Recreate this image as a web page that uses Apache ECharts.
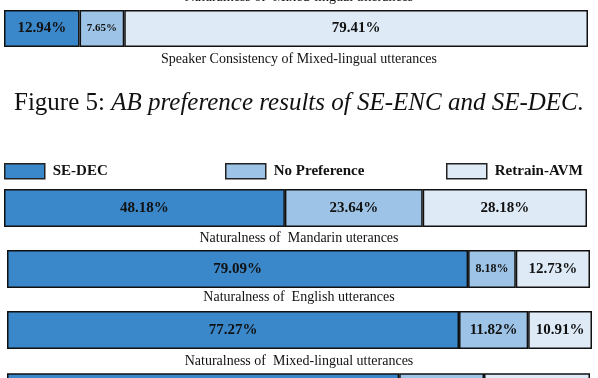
<!DOCTYPE html>
<html><head><meta charset="utf-8">
<script src="https://cdn.jsdelivr.net/npm/echarts@6/dist/echarts.min.js"></script>
<style>html,body{margin:0;padding:0;background:#fff}#c{width:598px;height:378px}</style>
</head><body><div id="c"></div>
<script>
const seriesNames = ['SE-DEC', 'No Preference', 'Retrain-AVM'];
const rowLabels = ['Speaker Consistency of Mixed-lingual utterances', 'Naturalness of  Mandarin uterances', 'Naturalness of  English utterances', 'Naturalness of  Mixed-lingual utterances'];
const topCutLabel = 'Naturalness of  Mixed-lingual utterances';
const seDec = [12.94, 48.18, 79.09, 77.27, 67.27];
const noPref = [7.65, 23.64, 8.18, 11.82, 14.55];
const retrain = [79.41, 28.18, 12.73, 10.91, 18.18];
const captionPrefix = 'Figure 5: ';
const captionText = 'AB preference results of SE-ENC and SE-DEC.';

const colors = ['#3a87c9', '#9dc3e6', '#deebf7'];
const SERIF = '"Liberation Serif", "Times New Roman", serif';
const grids = [
  {left: 4, width: 584, top: 10, height: 37},
  {left: 4, width: 583, top: 189, height: 38},
  {left: 7, width: 583, top: 250, height: 38},
  {left: 7, width: 585, top: 311, height: 38},
  {left: 7, width: 583, top: 374, height: 38}
];
const smallLabel = {'0-1': 11, '2-1': 12};
const vals = [seDec, noPref, retrain];

const series = [];
grids.forEach((g, gi) => {
  vals.forEach((arr, si) => {
    const fs = smallLabel[gi + '-' + si] || 15;
    series.push({
      name: seriesNames[si], type: 'bar', stack: 's' + gi,
      xAxisIndex: gi, yAxisIndex: gi,
      barWidth: g.height,
      itemStyle: {color: colors[si], borderColor: '#111', borderWidth: 1.5},
      label: {show: gi < 4, position: 'inside', formatter: p => p.value.toFixed(2) + '%',
        fontFamily: SERIF, fontWeight: 'bold', fontSize: fs, color: '#111'},
      emphasis: {disabled: true},
      data: [arr[gi]]
    });
  });
});

const labelYs = [59, 238.5, 297.5, 361];
const graphic = [
  {type: 'text', x: 299, y: -3, style: {text: topCutLabel, textAlign: 'center', textVerticalAlign: 'middle', font: '14px ' + SERIF, fill: '#111'}},
  ...rowLabels.map((t, i) => ({type: 'text', x: 299, y: labelYs[i], style: {text: t, textAlign: 'center', textVerticalAlign: 'middle', font: '14px ' + SERIF, fill: '#111'}}))
];

const legendPos = [4, 225, 446];
const option = {
  animation: false,
  grid: grids.map(g => ({left: g.left, width: g.width, top: g.top, height: g.height, containLabel: false})),
  xAxis: grids.map((g, i) => ({type: 'value', gridIndex: i, min: 0, max: 100, show: false})),
  yAxis: grids.map((g, i) => ({type: 'category', gridIndex: i, data: [''], show: false})),
  legend: seriesNames.map((n, i) => ({
    data: [n], left: legendPos[i], top: 163, padding: 0, itemWidth: 40, itemHeight: 15,
    icon: 'rect', selectedMode: false,
    itemStyle: {borderColor: '#222', borderWidth: 1.5},
    textStyle: {fontFamily: SERIF, fontWeight: 'bold', fontSize: 15, color: '#111', padding: [0, 0, 0, 3]}
  })),
  title: {
    text: '{a|' + captionPrefix + '}{b|' + captionText + '}',
    left: 'center', top: 91, padding: 0,
    textStyle: {fontWeight: 'normal', rich: {
      a: {fontFamily: SERIF, fontSize: 25, fontWeight: 'normal', color: '#111'},
      b: {fontFamily: SERIF, fontSize: 25, fontWeight: 'normal', fontStyle: 'italic', color: '#111'}
    }}
  },
  graphic: graphic,
  series: series
};
const chart = echarts.init(document.getElementById('c'), null, {renderer: 'canvas'});
chart.setOption(option);
</script>
</body></html>
